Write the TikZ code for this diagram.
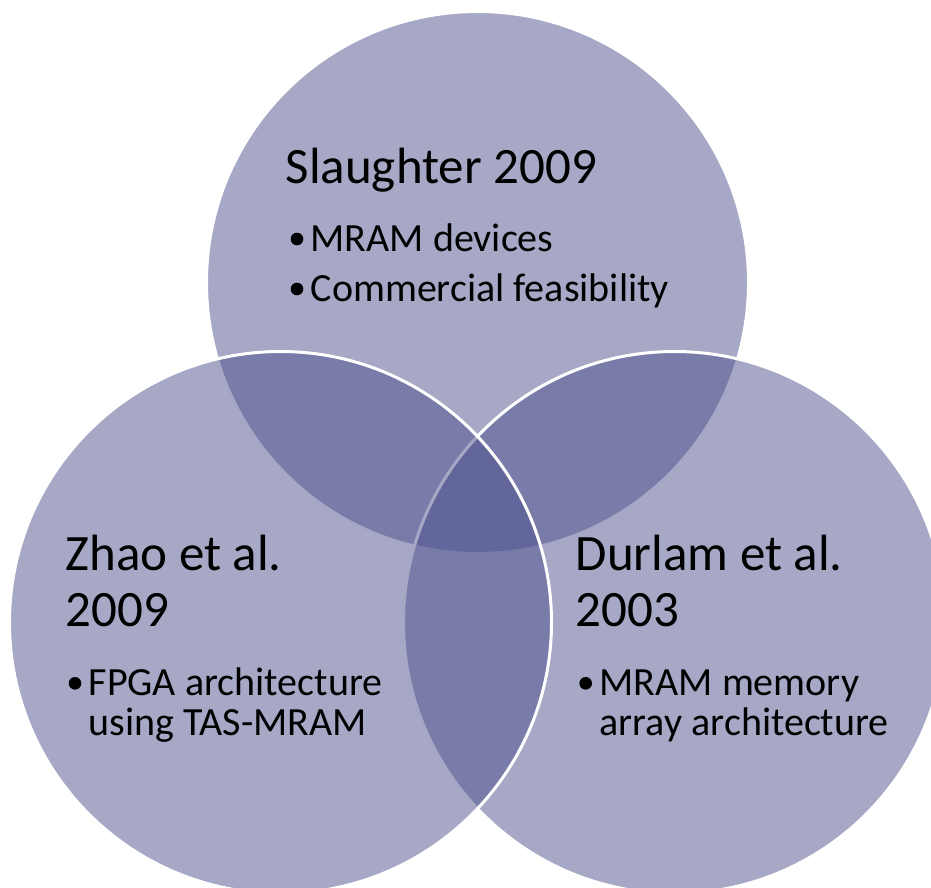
\documentclass[tikz,border=0pt]{standalone}
\usepackage{fontspec}
\setmainfont{Carlito}
\definecolor{venn}{RGB}{77,81,141}
\begin{document}
\begin{tikzpicture}[x=1pt,y=-1pt,
  vcircle/.style={circle, minimum size=542pt, inner sep=0pt, fill=venn, fill opacity=0.5, draw=white, draw opacity=1, line width=3pt},
  vtitle/.style={anchor=base west, inner sep=0pt, font=\fontsize{51}{56}\selectfont},
  vitem/.style={anchor=base west, inner sep=0pt, font=\fontsize{40}{44}\selectfont},
  vbul/.style={circle, fill=black, inner sep=0pt, minimum size=12.6pt}]
\useasboundingbox (0,0) rectangle (931,887);
% circles: top, right, left (drawing order matters for the white outlines)
\node[vcircle] (ctop) at (477.5,282.5) {};
\node[vcircle] (cright) at (674.5,622.5) {};
\node[vcircle] (cleft) at (280.5,622.5) {};
% top circle text
\node[vtitle] (t1) at (285.5,183.5) {Slaughter 2009};
\node[vbul] (b1a) at (297,239) {};
\node[vitem] (i1a) at (310.5,251.7) {MRAM devices};
\node[vbul] (b1b) at (297,289) {};
\node[vitem] (i1b) at (310.5,301.7) {Commercial feasibility};
% left circle text
\node[vtitle] (t2a) at (65.5,570.7) {Zhao et al.};
\node[vtitle] (t2b) at (65.5,626.7) {2009};
\node[vbul] (b2) at (75,683.3) {};
\node[vitem] (i2a) at (88.5,695) {FPGA architecture};
\node[vitem] (i2b) at (88.5,735) {using TAS-MRAM};
% right circle text
\node[vtitle] (t3a) at (575.5,570.7) {Durlam et al.};
\node[vtitle] (t3b) at (575.5,626.7) {2003};
\node[vbul] (b3) at (585.7,683.3) {};
\node[vitem] (i3a) at (599.5,695) {MRAM memory};
\node[vitem] (i3b) at (599.5,735) {array architecture};
\end{tikzpicture}
\end{document}
